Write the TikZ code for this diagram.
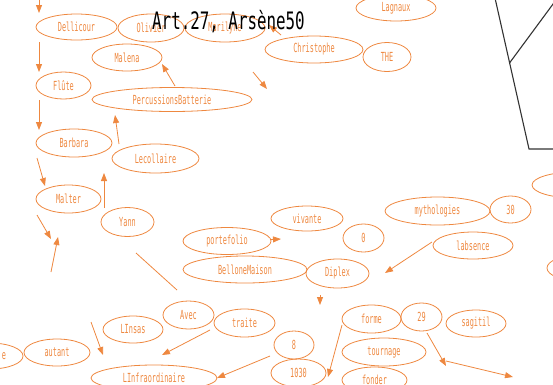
\documentclass[tikz,border=0pt]{standalone}
\usepackage{fontspec}
\usetikzlibrary{shapes.geometric,arrows.meta}
\newfontfamily\lblfont{DejaVu Sans Mono}
\newfontfamily\ttlfont{DejaVu Sans Mono}
\definecolor{orc}{RGB}{238,136,64}
\newcommand{\lbl}[1]{\scalebox{0.55}[1]{\lblfont\fontsize{12.5}{13}\selectfont #1}}
\tikzset{
  elb/.style={ellipse, draw=orc, line width=0.8pt, inner sep=0pt, text=orc},
  arr/.style={draw=orc, line width=0.8pt, -{Triangle[length=8pt,width=6pt]}},
  plain/.style={draw=orc, line width=0.8pt},
  frame/.style={draw=black!80, line width=1.1pt}
}
\newcommand{\el}[6]{\node[elb, minimum width=#4*2pt, minimum height=#5*2pt] (#1) at (#2,#3) {\lbl{#6}};}
\begin{document}
\begin{tikzpicture}[x=1pt,y=-1pt]
\useasboundingbox (0,0) rectangle (553,384);
% black lines
\coordinate (k1) at (495,-2);
\coordinate (k2) at (529,149);
\coordinate (k3) at (556,149);
\coordinate (k4) at (509.5,63);
\coordinate (k5) at (556,0);
\draw[frame] (k1) -- (k2) -- (k3);
\draw[frame] (k4) -- (k5);
% nodes
\el{dellicour}{76.5}{27}{40.5}{13}{Dellicour}
\el{olivier}{151}{28}{33}{14}{Olivier}
\el{marilyne}{225}{28}{40}{14}{Marilyne}
\el{lagnaux}{396}{8}{40}{13}{Lagnaux}
\el{malena}{127}{57.5}{35}{13.5}{Malena}
\el{christophe}{314}{49.5}{49}{13.5}{Christophe}
\el{the}{387}{57}{24}{14.5}{THE}
\el{flute}{63.5}{85.5}{27.5}{13.5}{Flûte}
\el{percu}{172}{99.5}{80}{12}{PercussionsBatterie}
\el{barbara}{74}{143}{38}{14}{Barbara}
\el{lecollaire}{155.5}{158.5}{43.5}{14.5}{Lecollaire}
\el{malter}{68.5}{199}{32.5}{14}{Malter}
\el{yann}{127.5}{222}{26.5}{14.5}{Yann}
\el{mytho}{437.5}{211}{52.5}{14}{mythologies}
\el{trente}{510.5}{209.5}{20.5}{13.5}{30}
\el{rightA}{575}{185}{43}{13}{}
\el{vivante}{307}{218.5}{36}{12.5}{vivante}
\el{zero}{363.5}{238}{20.5}{14}{0}
\el{portefolio}{227}{241}{44}{13.5}{portefolio}
\el{labsence}{473}{245.5}{40}{13.5}{labsence}
\el{rightB}{580}{268}{33}{13}{}
\el{bellone}{245}{269.5}{62}{13.5}{BelloneMaison}
\el{diplex}{337.5}{273.5}{31.5}{14.5}{Diplex}
\el{avec}{188.5}{315}{25.5}{14}{Avec}
\el{traite}{244.5}{323}{30.5}{14}{traite}
\el{linsas}{133}{329.5}{30}{13.5}{LInsas}
\el{forme}{371.5}{319}{29.5}{14}{forme}
\el{vingtneuf}{421.5}{317}{20.5}{14}{29}
\el{sagitil}{476}{323.5}{30}{13.5}{sagitil}
\el{huit}{294}{345}{20}{14}{8}
\el{tournage}{384}{352}{42}{14}{tournage}
\el{autant}{57}{352.5}{33}{13.5}{autant}
\el{leftA}{-10}{356}{33}{13}{}
\node[text=orc, inner sep=0pt] (leftAtxt) at (4,356) {\lbl{e}};
\el{linfra}{154}{378}{63}{13}{LInfraordinaire}
\el{mille}{298.5}{373}{27.5}{14}{1030}
\el{fonder}{374.5}{380}{32.5}{13}{fonder}
% connector end points
\coordinate (p1a) at (39,-4);   \coordinate (p1b) at (39,13);
\coordinate (p2a) at (39,42);   \coordinate (p2b) at (39,72);
\coordinate (p3a) at (39,100);  \coordinate (p3b) at (39,130);
\coordinate (p4a) at (37,158);  \coordinate (p4b) at (45,186);
\coordinate (p5a) at (37,215);  \coordinate (p5b) at (51,239);
\coordinate (p6a) at (51,272);  \coordinate (p6b) at (58,237);
\coordinate (p7a) at (104,208); \coordinate (p7b) at (104,173);
\coordinate (p8a) at (119,144); \coordinate (p8b) at (115,115);
\coordinate (p9a) at (175,86);  \coordinate (p9b) at (162,64);
\coordinate (p10a) at (281,35); \coordinate (p10b) at (269,25);
\coordinate (p11a) at (253,72); \coordinate (p11b) at (267,89);
\coordinate (p12a) at (271,239.5); \coordinate (p12b) at (281,239);
\coordinate (p13a) at (432,242); \coordinate (p13b) at (385,273);
\coordinate (p14a) at (320,295); \coordinate (p14b) at (320,305);
\coordinate (p15a) at (136,253); \coordinate (p15b) at (177,290);
\coordinate (p16a) at (91,322);  \coordinate (p16b) at (103,355);
\coordinate (p17a) at (210,330); \coordinate (p17b) at (162,355);
\coordinate (p18a) at (270,356); \coordinate (p18b) at (217,378);
\coordinate (p19a) at (342,325); \coordinate (p19b) at (328,377);
\coordinate (p20a) at (427,333); \coordinate (p20b) at (446,366);
\coordinate (p21a) at (446,361); \coordinate (p21b) at (513,377);
\foreach \i in {1,2,3,4,5,6,7,8,9,10,11,13,16,17,18,19,20,21}
  \draw[arr] (p\i a) -- (p\i b);
\draw[arr] (p12a) -- (p12b);
\draw[draw=orc, line width=0.8pt, -{Triangle[length=8pt,width=6pt]}, shorten <=0pt] (p14a) -- (p14b);
\draw[plain] (p15a) -- (p15b);
% title
\node[inner sep=0pt, anchor=west] (title) at (152,22) {\scalebox{0.66}[1]{\ttlfont\fontsize{24}{26}\selectfont Art.27, Arsène50}};
\end{tikzpicture}
\end{document}
